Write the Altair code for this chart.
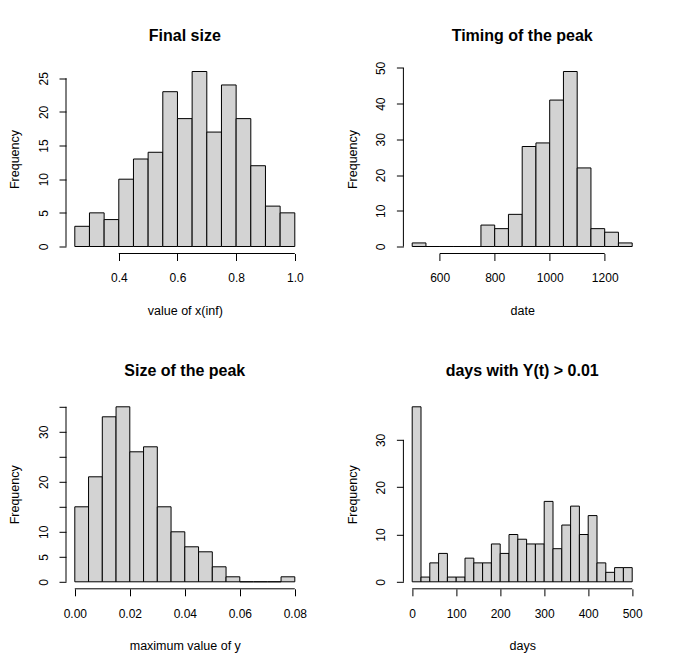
import altair as alt
import pandas as pd

# ---------------- data ----------------
final_breaks = [0.25, 0.30, 0.35, 0.40, 0.45, 0.50, 0.55, 0.60, 0.65, 0.70,
                0.75, 0.80, 0.85, 0.90, 0.95, 1.00]
final_counts = [3, 5, 4, 10, 13, 14, 23, 19, 26, 17, 24, 19, 12, 6, 5]
final_xticks = [0.4, 0.6, 0.8, 1.0]
final_yticks = [0, 5, 10, 15, 20, 25]
final_ylabels = [0, 5, 10, 15, 20, 25]

timing_breaks = [500, 550, 600, 650, 700, 750, 800, 850, 900, 950, 1000,
                 1050, 1100, 1150, 1200, 1250, 1300]
timing_counts = [1, 0, 0, 0, 0, 6, 5, 9, 28, 29, 41, 49, 22, 5, 4, 1]
timing_xticks = [600, 800, 1000, 1200]
timing_yticks = [0, 10, 20, 30, 40, 50]
timing_ylabels = [0, 10, 20, 30, 40, 50]

peak_breaks = [0.000, 0.005, 0.010, 0.015, 0.020, 0.025, 0.030, 0.035, 0.040,
               0.045, 0.050, 0.055, 0.060, 0.065, 0.070, 0.075, 0.080]
peak_counts = [15, 21, 33, 35, 26, 27, 15, 10, 7, 6, 3, 1, 0, 0, 0, 1]
peak_xticks = [0.00, 0.02, 0.04, 0.06, 0.08]
peak_yticks = [0, 5, 10, 15, 20, 25, 30, 35]
peak_ylabels = [0, 5, 10, 20, 30]

days_breaks = [0, 20, 40, 60, 80, 100, 120, 140, 160, 180, 200, 220, 240, 260,
               280, 300, 320, 340, 360, 380, 400, 420, 440, 460, 480, 500]
days_counts = [37, 1, 4, 6, 1, 1, 5, 4, 4, 8, 6, 10, 9, 8, 8, 17, 7, 12, 16,
               10, 14, 4, 2, 3, 3]
days_xticks = [0, 100, 200, 300, 400, 500]
days_yticks = [0, 10, 20, 30]
days_ylabels = [0, 10, 20, 30]

titles = ["Final size", "Timing of the peak", "Size of the peak",
          "days with Y(t) > 0.01"]
xtitles = ["value of x(inf)", "date", "maximum value of y", "days"]
ytitle = "Frequency"

# ---------------- styling ----------------
FONT = "Liberation Sans"
W, H = 237.6, 189
BAR_FILL = "#d3d3d3"
TITLE_GAP = 20.6      # baseline of the panel title above the plot area
DIGIT_W = 6.67        # width of one digit at 12px, for label overhang


def panel(breaks, counts, xticks, yticks, ylabels, xfmt, title, xtitle):
    df = pd.DataFrame({"lo": breaks[:-1], "hi": breaks[1:], "n": counts,
                       "base": [0] * len(counts)})
    xr = breaks[-1] - breaks[0]
    xmin, xmax = breaks[0] - 0.04 * xr, breaks[-1] + 0.04 * xr
    top = max(counts)
    ymin, ymax = -0.04 * top, 1.04 * top
    xs = alt.Scale(domain=[xmin, xmax], nice=False, zero=False)
    ys = alt.Scale(domain=[ymin, ymax], nice=False, zero=False)
    lab_list = "[" + ",".join(str(v) for v in ylabels) + "]"
    label_expr = f"indexof({lab_list}, datum.value) >= 0 ? datum.label : ''"
    xaxis = alt.Axis(values=xticks, format=xfmt, title=xtitle)
    yaxis = alt.Axis(values=yticks, format="d", labelExpr=label_expr,
                     title=ytitle)

    # a rotated top y label can poke above the plot; the title offset is
    # measured from that overhang, so compensate to keep titles level
    top_lab = ylabels[-1]
    gap_px = (ymax - top_lab) / (ymax - ymin) * H
    overhang = max(0.0, len(str(top_lab)) * DIGIT_W / 2 - gap_px)

    bars = alt.Chart(df).mark_rect(
        fill=BAR_FILL, stroke="black", strokeWidth=1
    ).encode(
        x=alt.X("lo:Q", scale=xs, axis=xaxis),
        x2="hi",
        y=alt.Y("n:Q", scale=ys, axis=yaxis),
        y2="base",
    )

    xaxis_df = pd.DataFrame({"a": [xticks[0]], "b": [xticks[-1]], "y": [ymin]})
    xline = alt.Chart(xaxis_df).mark_rule(color="black", strokeWidth=1).encode(
        x=alt.X("a:Q", scale=xs, axis=xaxis),
        x2="b",
        y=alt.Y("y:Q", scale=ys, axis=yaxis),
    )
    yaxis_df = pd.DataFrame({"a": [yticks[0]], "b": [yticks[-1]], "x": [xmin]})
    yline = alt.Chart(yaxis_df).mark_rule(color="black", strokeWidth=1).encode(
        y=alt.Y("a:Q", scale=ys, axis=yaxis),
        y2="b",
        x=alt.X("x:Q", scale=xs, axis=xaxis),
    )
    return alt.layer(bars, xline, yline).properties(
        width=W, height=H,
        title=alt.TitleParams(title, offset=TITLE_GAP - overhang),
    )


p1 = panel(final_breaks, final_counts, final_xticks, final_yticks,
           final_ylabels, ".1f", titles[0], xtitles[0])
p2 = panel(timing_breaks, timing_counts, timing_xticks, timing_yticks,
           timing_ylabels, "d", titles[1], xtitles[1])
p3 = panel(peak_breaks, peak_counts, peak_xticks, peak_yticks,
           peak_ylabels, ".2f", titles[2], xtitles[2])
p4 = panel(days_breaks, days_counts, days_xticks, days_yticks,
           days_ylabels, "d", titles[3], xtitles[3])

chart = alt.concat(p1, p2, p3, p4, columns=2).properties(
    spacing={"row": 146.3, "column": 99.4},
    bounds="flush",
    padding={"left": 0, "top": 19.5, "right": 5, "bottom": 5},
).configure_view(
    stroke=None
).configure_axis(
    labelFont=FONT, titleFont=FONT, labelFontSize=12, titleFontSize=12.5,
    labelColor="black", titleColor="black", tickColor="black",
    tickWidth=1, tickSize=7, domain=False, grid=False,
    labelOverlap=False, labelFlush=False, titleFontWeight="normal",
).configure_axisX(
    labelBaseline="alphabetic", labelPadding=21.4,
    titleY=60.7, titleBaseline="alphabetic",
).configure_axisY(
    labelAngle=270, labelAlign="center", labelBaseline="alphabetic",
    labelPadding=11.6, titleX=-47.3, titleBaseline="alphabetic",
    titleAngle=270,
).configure_title(
    font=FONT, fontSize=16, fontWeight="bold", color="black",
    anchor="middle", frame="group", baseline="alphabetic",
)

chart.save("out.html", embed_options={"renderer": "svg", "actions": False})
